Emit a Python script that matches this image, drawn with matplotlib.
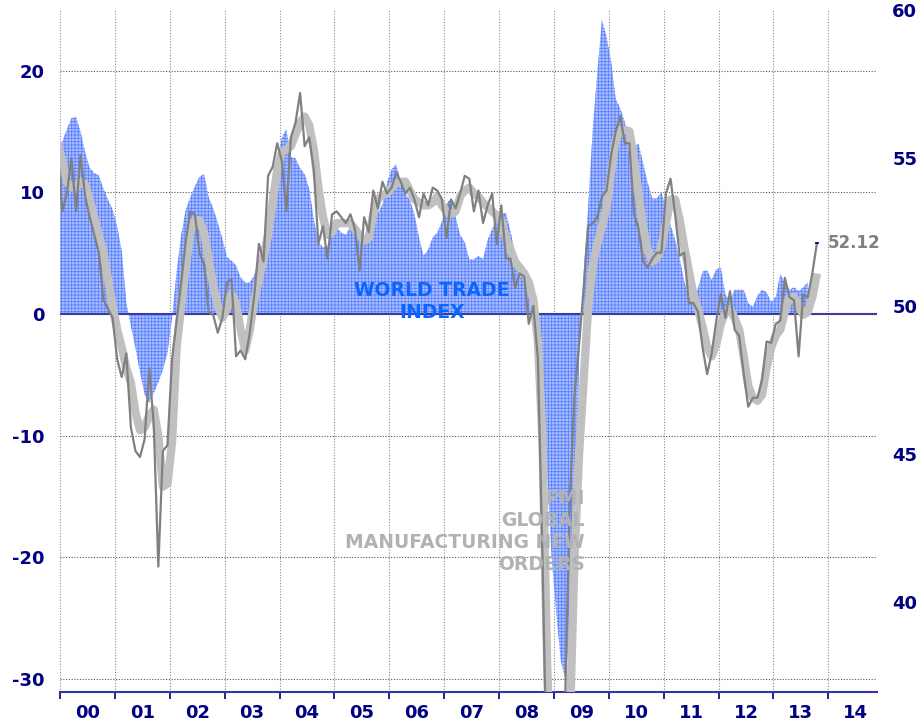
import numpy as np
import matplotlib.pyplot as plt

plt.rcParams['font.family'] = ['DejaVu Sans']
plt.rcParams['font.weight'] = 'bold'
plt.rcParams['hatch.linewidth'] = 0.6
plt.rcParams['axes.unicode_minus'] = False

# monthly data, first value = Dec 1999
world_trade = [13.3, 14.2, 15.2, 16.1, 16.2, 15.0, 13.3, 12.0, 11.6, 11.4, 10.3, 9.4, 8.6, 7.2, 5.2, 1.0,
               -1.0, -2.8, -4.8, -6.6, -7.3, -6.5, -5.6, -4.6, -3.2, -0.3, 3.5, 6.5, 8.6, 9.6, 10.5, 11.3,
               11.5, 9.6, 8.7, 7.5, 6.2, 4.7, 4.4, 4.0, 3.0, 2.6, 2.6, 3.2, 4.6, 6.2, 8.5, 10.7, 12.6, 14.5,
               15.2, 12.9, 12.8, 12.0, 11.5, 10.3, 7.8, 5.9, 5.5, 5.6, 6.6, 7.1, 6.7, 6.5, 7.2, 7.0, 6.8,
               6.1, 7.5, 8.1, 8.3, 9.0, 10.8, 11.9, 12.3, 11.0, 9.9, 9.4, 8.2, 6.3, 4.8, 5.3, 6.3, 6.7, 7.6,
               9.1, 9.5, 8.0, 6.5, 5.9, 4.5, 4.5, 4.8, 4.5, 6.1, 7.0, 8.0, 8.3, 8.3, 6.8, 5.0, 4.1, 3.0, 1.5,
               0.3, -1.5, -4.0, -13.0, -20.0, -24.5, -28.5, -30.0, -26.0, -20.0, -4.0, 3.5, 8.8, 15.3, 19.9,
               24.2, 22.8, 20.8, 17.7, 16.9, 15.8, 13.5, 13.8, 14.0, 12.4, 10.8, 9.5, 9.5, 10.0, 8.8, 7.3,
               6.1, 4.6, 2.7, 1.4, 1.3, 2.1, 3.5, 3.6, 2.8, 3.7, 3.8, 1.6, 1.1, 2.0, 2.0, 2.0, 0.9, 0.6, 1.5,
               2.0, 1.8, 1.0, 1.4, 3.3, 2.5, 2.0, 2.2, 1.9, 2.2, 2.6]

pmi = [55.3, 53.2, 53.8, 55.0, 53.2, 55.1, 53.7, 53.0, 52.4, 51.8, 50.2, 49.9, 49.6, 48.2, 47.6, 48.4,
       45.9, 45.1, 44.9, 45.5, 47.9, 46.0, 41.2, 45.1, 45.3, 48.2, 49.5, 50.8, 52.2, 53.2, 53.1, 51.8,
       51.4, 49.8, 49.7, 49.1, 49.6, 50.8, 50.9, 48.3, 48.5, 48.2, 49.1, 50.4, 52.1, 51.5, 54.4, 54.7,
       55.5, 54.9, 53.2, 55.7, 56.2, 57.2, 55.4, 55.7, 54.6, 52.1, 52.7, 51.6, 53.1, 53.2, 53.0, 52.8,
       53.1, 52.6, 51.2, 53.0, 52.5, 53.9, 53.3, 54.2, 53.8, 54.0, 54.5, 54.2, 53.8, 54.0, 53.6, 53.0,
       53.8, 53.4, 54.0, 53.9, 53.6, 52.3, 53.6, 53.3, 53.8, 54.4, 54.3, 53.2, 53.9, 52.8, 53.4, 53.8,
       52.1, 53.4, 51.6, 51.6, 50.6, 51.1, 51.0, 49.4, 50.0, 48.2, 41.5, 33.5, 30.0, 31.0, 33.0, 37.0,
       43.5, 47.0, 48.7, 50.6, 52.7, 52.8, 53.0, 53.7, 53.9, 55.1, 55.9, 56.4, 55.5, 55.5, 53.1, 52.6,
       51.5, 51.3, 51.6, 51.8, 51.8, 53.8, 54.3, 53.1, 51.7, 51.8, 50.1, 50.1, 49.8, 48.6, 47.7, 48.4,
       49.5, 50.4, 49.6, 50.5, 49.2, 49.0, 47.7, 46.6, 46.9, 46.9, 47.5, 48.8, 48.75, 49.4, 49.5, 50.95,
       50.3, 50.2, 48.3, 50.4, 50.3, 51.1, 52.12]

pmi_smooth = [55.5, 54.9, 54.2, 54.0, 54.0, 54.2, 54.1, 53.6, 53.0, 52.4, 51.8, 50.9, 50.0, 49.2, 48.6,
              47.9, 47.4, 46.4, 45.8, 45.9, 46.3, 46.5, 45.6, 43.9, 44.0, 45.4, 48.6, 50.0, 51.3, 52.5,
              52.9, 52.9, 52.5, 51.6, 50.7, 50.0, 49.6, 49.9, 50.4, 50.1, 49.2, 48.5, 49.2, 50.2, 50.9,
              51.6, 52.4, 53.5, 54.6, 55.2, 55.3, 55.4, 55.8, 56.2, 56.4, 56.1, 55.3, 54.0, 53.0, 52.4,
              52.5, 52.8, 52.8, 52.8, 52.8, 52.6, 52.4, 52.2, 52.3, 53.1, 53.6, 53.75, 53.8, 54.0, 54.15,
              54.2, 54.2, 53.9, 53.6, 53.5, 53.4, 53.4, 53.5, 53.7, 53.4, 53.2, 53.1, 53.2, 53.7, 53.9,
              54.0, 53.8, 53.7, 53.5, 53.35, 53.2, 53.05, 52.9, 52.3, 51.9, 51.5, 51.3, 51.1, 50.8, 50.2,
              48.8, 45.5, 38.0, 33.5, 31.0, 30.5, 32.5, 36.0, 41.5, 45.0, 47.5, 50.0, 51.4, 52.1, 52.7,
              53.3, 54.5, 55.6, 55.95, 55.95, 55.9, 55.0, 53.8, 52.7, 51.9, 51.5, 51.6, 52.0, 52.8, 53.6,
              53.6, 52.9, 52.0, 51.2, 50.4, 49.9, 49.3, 48.6, 48.3, 48.7, 49.4, 49.8, 49.9, 49.6, 49.2,
              48.3, 47.3, 46.9, 46.8, 47.0, 47.9, 48.6, 49.0, 49.2, 49.8, 50.3, 50.3, 50.0, 49.7, 49.8,
              50.3, 51.1]

years = np.arange(2000, 2015)
year_labels = ['%02d' % (y % 100) for y in years]
left_ticks = [-30, -20, -10, 0, 10, 20]
right_ticks = [40, 45, 50, 55, 60]

navy = '#000080'

x_wt = 2000 + (np.arange(len(world_trade)) - 0.5) / 12
x_pmi = 2000 + (np.arange(len(pmi)) - 0.5) / 12

fig = plt.figure(figsize=(9.24, 7.26), dpi=100)
ax1 = fig.add_axes([60 / 924, 34 / 726, 817 / 924, 682 / 726])
ax2 = ax1.twinx()

ax1.fill_between(x_wt, world_trade, 0, facecolor='#aac0ff', edgecolor='#5a7fff',
                 hatch='+++++', linewidth=0, zorder=2)
ax1.axhline(0, color='#3a3aa0', lw=1.5, zorder=3)

ax2.plot(x_pmi, pmi_smooth, color='#c0c0c0', lw=6, solid_joinstyle='round',
         solid_capstyle='butt', zorder=3)
ax2.plot(x_pmi, pmi, color='#808080', lw=1.6, zorder=4)
ax2.plot(x_pmi[-1], pmi[-1], marker='_', color=navy, ms=3.5, mew=1.2, zorder=5)
ax2.annotate('%.2f' % pmi[-1], (x_pmi[-1], pmi[-1]), xytext=(8, 0),
             textcoords='offset points', va='center', ha='left',
             color='#808080', fontsize=12, zorder=6)

ax1.set_xlim(2000, 2014.887)
ax1.set_ylim(-31.07, 25.0)
ax2.set_ylim(36.96, 60.001)

ax1.set_xticks(years)
ax1.set_xticklabels([])
ax1.set_xticks(years + 0.5, labels=year_labels, minor=True)
ax1.tick_params(axis='x', which='major', length=5, width=1.2, color=navy, direction='out')
ax1.tick_params(axis='x', which='minor', length=0, pad=9, labelsize=13, labelcolor=navy)

ax1.set_yticks(left_ticks)
ax1.tick_params(axis='y', length=0, pad=11, labelsize=13, labelcolor=navy)
ax2.set_yticks(right_ticks)
ax2.tick_params(axis='y', length=0, pad=11, labelsize=13, labelcolor=navy)

ax1.grid(axis='x', which='major', color='#8c8c8c', linestyle=(0, (1, 1.5)), lw=0.8)
ax1.grid(axis='y', color='#555555', linestyle=(0, (1, 1.5)), lw=0.8)
ax1.set_axisbelow(True)

for s in ['top', 'left', 'right']:
    ax1.spines[s].set_visible(False)
ax1.spines['bottom'].set_color('#3333aa')
ax1.spines['bottom'].set_linewidth(1.5)
for s in ax2.spines.values():
    s.set_visible(False)

fig.text(432 / 924, 1 - 301 / 726, 'WORLD TRADE\nINDEX', color='#0a66ff', fontsize=13.5,
         ha='center', va='center', zorder=10)
fig.text(585 / 924, 1 - 532 / 726, 'PMI\nGLOBAL\nMANUFACTURING NEW\nORDERS', color='#b2b2b2',
         fontsize=13.5, ha='right', va='center', multialignment='right', zorder=10)

fig.savefig('out.png', dpi=100)
